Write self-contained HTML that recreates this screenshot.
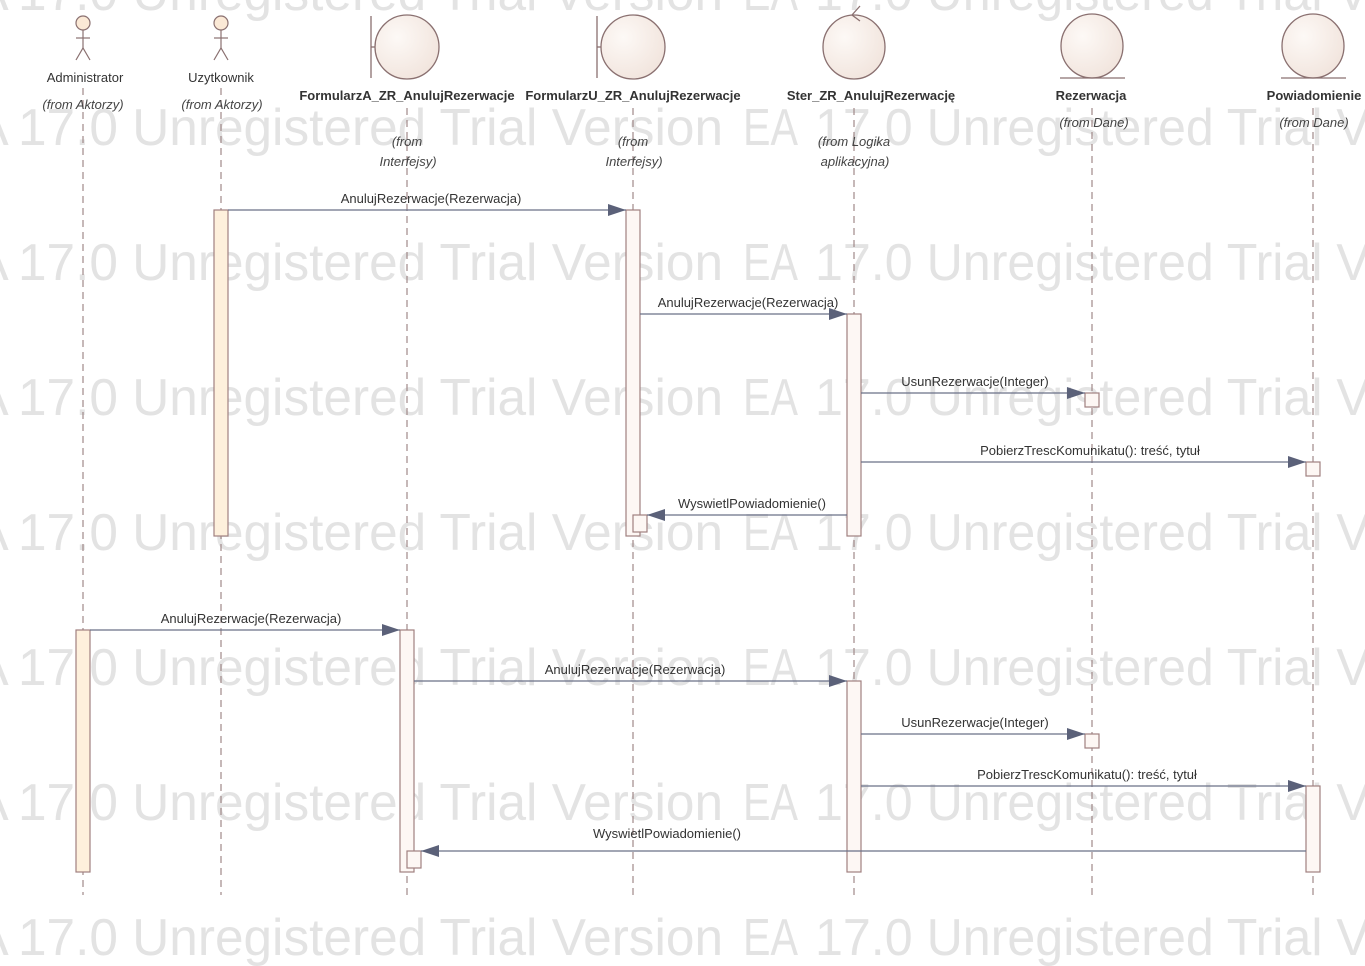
<!DOCTYPE html>
<html><head><meta charset="utf-8"><style>
body{margin:0;background:#fff}
svg{display:block;font-family:"Liberation Sans",sans-serif}
</style></head><body>
<svg width="1365" height="966" viewBox="0 0 1365 966" xmlns="http://www.w3.org/2000/svg">
<defs>
<radialGradient id="g" cx="0.35" cy="0.35" r="0.8"><stop offset="0" stop-color="#fdf9f6"/><stop offset="1" stop-color="#f0e2da"/></radialGradient>
<marker id="a" markerWidth="18" markerHeight="12" refX="18" refY="6" orient="auto" markerUnits="userSpaceOnUse"><path d="M0,0 L18,6 L0,12 Z" fill="#5b6179"/></marker>
</defs>
<g fill="#e3e3e3" font-size="52">
<g id="wm">
<text x="-26" y="10">A</text>
<text x="18" y="10" textLength="705" lengthAdjust="spacingAndGlyphs">17.0 Unregistered Trial Version</text>
<text x="743" y="10" textLength="55" lengthAdjust="spacingAndGlyphs">EA</text>
<text x="815" y="10" textLength="580" lengthAdjust="spacingAndGlyphs">17.0 Unregistered Trial Ve</text>
</g>
<use href="#wm" y="135"/><use href="#wm" y="270"/><use href="#wm" y="405"/><use href="#wm" y="540"/><use href="#wm" y="675"/><use href="#wm" y="810"/><use href="#wm" y="945"/>
</g>
<g stroke="#a08888" stroke-width="1.2" stroke-dasharray="7,5" fill="none">
<line x1="83" y1="88" x2="83" y2="895"/><line x1="221" y1="88" x2="221" y2="895"/>
<line x1="407" y1="108" x2="407" y2="895"/><line x1="633" y1="108" x2="633" y2="895"/>
<line x1="854" y1="108" x2="854" y2="895"/><line x1="1092" y1="108" x2="1092" y2="895"/>
<line x1="1313" y1="108" x2="1313" y2="895"/>
</g>
<g stroke="#8a7070" stroke-width="1.2" fill="#fbe9d6">
<circle cx="83" cy="23" r="7"/><line x1="83" y1="30" x2="83" y2="48"/><line x1="76" y1="38" x2="90" y2="38"/><path d="M76,60 L83,48 L90,60" fill="none"/>
<circle cx="221" cy="23" r="7"/><line x1="221" y1="30" x2="221" y2="48"/><line x1="214" y1="38" x2="228" y2="38"/><path d="M214,60 L221,48 L228,60" fill="none"/>
</g>
<g stroke="#8a7070" stroke-width="1.3" fill="url(#g)">
<circle cx="407" cy="47" r="32"/><line x1="371" y1="16" x2="371" y2="78"/><line x1="371" y1="47" x2="375" y2="47"/>
<circle cx="633" cy="47" r="32"/><line x1="597" y1="16" x2="597" y2="78"/><line x1="597" y1="47" x2="601" y2="47"/>
<ellipse cx="854" cy="47" rx="31" ry="32"/><path d="M860,6 L852,15 L860,21" fill="none"/>
<ellipse cx="1092" cy="46" rx="31" ry="32"/><line x1="1060" y1="78" x2="1125" y2="78"/>
<ellipse cx="1313" cy="46" rx="31" ry="32"/><line x1="1281" y1="78" x2="1346" y2="78"/>
</g>
<g font-size="13" fill="#333" text-anchor="middle">
<text x="85" y="82">Administrator</text><text x="221" y="82">Uzytkownik</text>
<g font-weight="bold"><text x="407" y="100">FormularzA_ZR_AnulujRezerwacje</text><text x="633" y="100">FormularzU_ZR_AnulujRezerwacje</text><text x="871" y="100">Ster_ZR_AnulujRezerwację</text><text x="1091" y="100">Rezerwacja</text><text x="1314" y="100">Powiadomienie</text></g>
<g font-style="italic" fill="#444"><text x="83" y="109">(from Aktorzy)</text><text x="222" y="109">(from Aktorzy)</text>
<text x="407" y="146">(from</text><text x="408" y="166">Interfejsy)</text><text x="633" y="146">(from</text><text x="634" y="166">Interfejsy)</text>
<text x="854" y="146">(from Logika</text><text x="855" y="166">aplikacyjna)</text><text x="1094" y="127">(from Dane)</text><text x="1314" y="127">(from Dane)</text></g>
</g>
<g stroke="#a08080" stroke-width="1.2">
<rect x="214" y="210" width="14" height="326" fill="#fef0dc"/>
<rect x="626" y="210" width="14" height="326" fill="#fdf7f4"/>
<rect x="633" y="515" width="14" height="17" fill="#fdf7f4"/>
<rect x="847" y="314" width="14" height="222" fill="#fdf7f4"/>
<rect x="1085" y="393" width="14" height="14" fill="#fdf7f4"/>
<rect x="1306" y="462" width="14" height="14" fill="#fdf7f4"/>
<rect x="76" y="630" width="14" height="242" fill="#fef0dc"/>
<rect x="400" y="630" width="14" height="242" fill="#fdf7f4"/>
<rect x="407" y="851" width="14" height="17" fill="#fdf7f4"/>
<rect x="847" y="681" width="14" height="191" fill="#fdf7f4"/>
<rect x="1085" y="734" width="14" height="14" fill="#fdf7f4"/>
<rect x="1306" y="786" width="14" height="86" fill="#fdf7f4"/>
</g>
<g stroke="#6a7088" stroke-width="1.3" marker-end="url(#a)">
<line x1="228" y1="210" x2="626" y2="210"/><line x1="640" y1="314" x2="847" y2="314"/>
<line x1="861" y1="393" x2="1085" y2="393"/><line x1="861" y1="462" x2="1306" y2="462"/>
<line x1="847" y1="515" x2="647" y2="515"/><line x1="90" y1="630" x2="400" y2="630"/>
<line x1="414" y1="681" x2="847" y2="681"/><line x1="861" y1="734" x2="1085" y2="734"/>
<line x1="861" y1="786" x2="1306" y2="786"/><line x1="1306" y1="851" x2="421" y2="851"/>
</g>
<g font-size="13" fill="#333" text-anchor="middle">
<text x="431" y="203">AnulujRezerwacje(Rezerwacja)</text><text x="748" y="307">AnulujRezerwacje(Rezerwacja)</text>
<text x="975" y="386">UsunRezerwacje(Integer)</text><text x="1090" y="455">PobierzTrescKomunikatu(): treść, tytuł</text>
<text x="752" y="508">WyswietlPowiadomienie()</text><text x="251" y="623">AnulujRezerwacje(Rezerwacja)</text>
<text x="635" y="674">AnulujRezerwacje(Rezerwacja)</text><text x="975" y="727">UsunRezerwacje(Integer)</text>
<text x="1087" y="779">PobierzTrescKomunikatu(): treść, tytuł</text><text x="667" y="838">WyswietlPowiadomienie()</text>
</g>
</svg>
</body></html>
